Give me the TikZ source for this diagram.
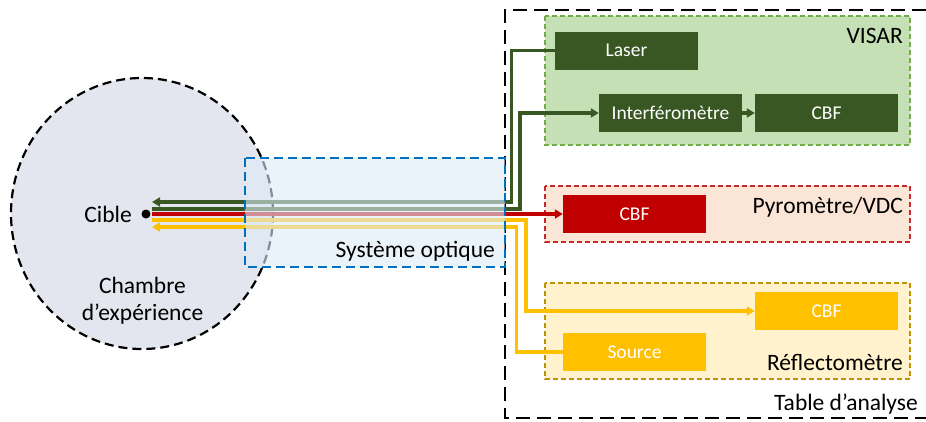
\documentclass[tikz,border=0pt]{standalone}
\usepackage{fontspec}
\setmainfont{Carlito}
\usepackage{tikz}
\usetikzlibrary{arrows.meta}
\definecolor{visarGreen}{RGB}{56,87,35}
\definecolor{visarFill}{RGB}{197,224,180}
\definecolor{visarEdge}{RGB}{112,173,71}
\definecolor{pyroRed}{RGB}{192,0,0}
\definecolor{pyroFill}{RGB}{251,229,214}
\definecolor{pyroEdge}{RGB}{204,40,40}
\definecolor{reflYellow}{RGB}{255,192,0}
\definecolor{reflFill}{RGB}{255,242,204}
\definecolor{reflEdge}{RGB}{191,144,0}
\definecolor{optBlue}{RGB}{0,112,192}
\definecolor{optFill}{RGB}{222,235,247}
\definecolor{chamberFill}{RGB}{227,230,238}

\begin{document}
\begin{tikzpicture}[x=1pt, y=-1pt, every node/.style={inner sep=0pt},
  lbl/.style={font=\fontsize{23.5}{27}\selectfont},
  device/.style={minimum width=143, minimum height=38, text=white, font=\fontsize{19.5}{22}\selectfont},
  groupbox/.style={dash pattern=on 5pt off 3pt, line width=1.4},
  beam/.style={line width=3.2},
  tip/.style={-{Triangle[length=8pt, width=9pt]}}]
\useasboundingbox (0,0) rectangle (926,421);
\draw[fill=chamberFill, line width=2.2, dash pattern=on 9pt off 5pt] (142,213.5) ellipse [x radius=131, y radius=135.5];
\node (chambre) [lbl, align=center, anchor=base] at (142.5,320) {Chambre\\d’expérience};
\node (cible) [circle, fill=black, minimum size=9] at (146,214) {};
\node (ciblelbl) [lbl, anchor=base east] at (132,222) {Cible};
\draw[line width=2.4, dash pattern=on 14pt off 7pt] (926,10) -| (505,418) -- (926,418);
\node (tablelbl) [lbl, anchor=base east] at (918,410) {Table d’analyse};
\draw[groupbox, draw=visarEdge, fill=visarFill] (545,16) rectangle (910,145);
\node (visarlbl) [lbl, anchor=base east] at (903,43) {VISAR};
\draw[groupbox, draw=pyroEdge, fill=pyroFill] (545,186) rectangle (910,242);
\node (pyrolbl) [lbl, anchor=base east] at (903,213) {Pyromètre/VDC};
\draw[groupbox, draw=reflEdge, fill=reflFill] (545,283) rectangle (910,379);
\node (refllbl) [lbl, anchor=base east] at (903,370) {Réflectomètre};
\node (laser) [device, fill=visarGreen] at (626.5,50.5) {Laser};
\node (interf) [device, fill=visarGreen] at (670.5,113) {Interféromètre};
\node (cbfV) [device, fill=visarGreen] at (826.5,113) {CBF};
\node (cbfP) [device, fill=pyroRed] at (634.5,214) {CBF};
\node (cbfR) [device, fill=reflYellow] at (826.5,311) {CBF};
\node (source) [device, fill=reflYellow] at (634.5,352) {Source};
\coordinate (inV) at (152,202);
\coordinate (outV) at (152,209);
\coordinate (outP) at (152,214);
\coordinate (outR) at (152,220);
\coordinate (inR) at (152,227);
\draw[beam, tip, visarGreen] (laser.west) -- ++(-43,0) |- (inV);
\draw[beam, tip, visarGreen] (outV) -- ++(368,0) |- (interf.west);
\draw[beam, tip, visarGreen] (interf) -- (cbfV);
\draw[beam, tip, pyroRed] (outP) -- (cbfP.west);
\draw[beam, tip, reflYellow] (outR) -- ++(374,0) |- (cbfR.west);
\draw[beam, tip, reflYellow] (source.west) -- ++(-46,0) |- (inR);
\draw[draw=optBlue, fill=optFill, fill opacity=0.6, line width=2.2, dash pattern=on 9pt off 5pt] (245,158) rectangle (505,267);
\node (optlbl) [lbl, anchor=base east] at (495,257) {Système optique};
\end{tikzpicture}
\end{document}
